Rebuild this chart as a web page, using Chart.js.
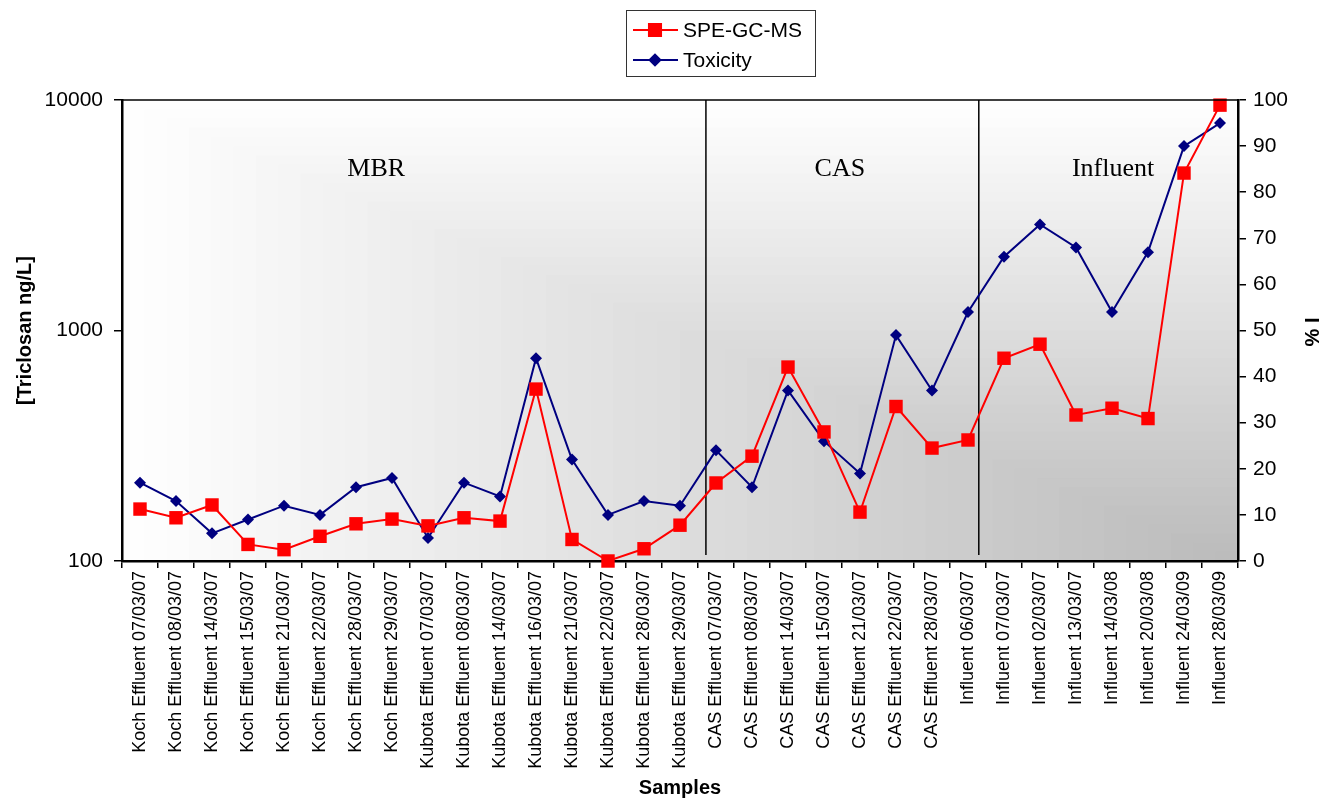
<!DOCTYPE html>
<html>
<head>
<meta charset="utf-8">
<title>Triclosan</title>
<script src="https://cdn.jsdelivr.net/npm/chart.js@4.4.1/dist/chart.umd.min.js"></script>
<style>
    html, body { margin: 0; padding: 0; background: #fff; }
    #wrap { width: 1333px; height: 800px; }
</style>
</head>
<body>
<div id="wrap"><canvas id="triclosanChart"></canvas></div>
<script>
const samples = [
    'Koch Effluent 07/03/07', 'Koch Effluent 08/03/07', 'Koch Effluent 14/03/07', 'Koch Effluent 15/03/07',
    'Koch Effluent 21/03/07', 'Koch Effluent 22/03/07', 'Koch Effluent 28/03/07', 'Koch Effluent 29/03/07',
    'Kubota Effluent 07/03/07', 'Kubota Effluent 08/03/07', 'Kubota Effluent 14/03/07', 'Kubota Effluent 16/03/07',
    'Kubota Effluent 21/03/07', 'Kubota Effluent 22/03/07', 'Kubota Effluent 28/03/07', 'Kubota Effluent 29/03/07',
    'CAS Effluent 07/03/07', 'CAS Effluent 08/03/07', 'CAS Effluent 14/03/07', 'CAS Effluent 15/03/07',
    'CAS Effluent 21/03/07', 'CAS Effluent 22/03/07', 'CAS Effluent 28/03/07', 'Influent 06/03/07',
    'Influent 07/03/07', 'Influent 02/03/07', 'Influent 13/03/07', 'Influent 14/03/08',
    'Influent 20/03/08', 'Influent 24/03/09', 'Influent 28/03/09'
];
// ng/L, left log axis
const speGcMs = [168, 154, 175, 118, 112, 128, 145, 152, 142, 154, 149, 557, 124, 100, 113, 143,
                 218, 285, 694, 363, 163, 468, 309, 335, 758, 872, 430, 460, 415, 4820, 9500];
// % inhibition, right axis
const toxicity = [17, 13, 6, 9, 12, 10, 16, 18, 5, 17, 14, 44, 22, 10, 13, 12,
                  24, 16, 37, 26, 19, 49, 37, 54, 66, 73, 68, 54, 67, 90, 95];
const logTicks = [100, 1000, 10000];
const groupNames = ['MBR', 'CAS', 'Influent'];
const groupLabelAt = [6.56, 19.44, 27.03];  // in category units
const groupBreaks = [15.72, 23.3];

const plotDecor = {
    id: 'plotDecor',
    beforeDraw(chart) {
        // corner gradient: white top-left to grey bottom-right
        const {ctx, chartArea: a} = chart;
        const w = a.right - a.left, h = a.bottom - a.top;
        const steps = 50;
        ctx.save();
        for (let i = 0; i < steps; i++) {
            const c = i / steps;
            const g = Math.round(255 - 68 * (i + 0.5) / steps);
            ctx.fillStyle = 'rgb(' + g + ',' + g + ',' + g + ')';
            ctx.fillRect(a.left + c * w, a.top + c * h, w * (1 - c) + 1, h * (1 - c) + 1);
        }
        ctx.restore();
    },
    beforeDatasetsDraw(chart) {
        const {ctx, chartArea: a, scales} = chart;
        ctx.save();
        ctx.strokeStyle = '#000';
        ctx.lineWidth = 1.5;
        groupBreaks.forEach(b => {
            const x = scales.x.getPixelForValue(b);
            ctx.beginPath();
            ctx.moveTo(x, a.top);
            ctx.lineTo(x, a.bottom - 6);
            ctx.stroke();
        });
        ctx.fillStyle = '#000';
        ctx.font = '26px "Liberation Serif", "Times New Roman", serif';
        ctx.textAlign = 'center';
        ctx.textBaseline = 'middle';
        const y = scales.yRight.getPixelForValue(85);
        groupNames.forEach((n, i) => {
            ctx.fillText(n, scales.x.getPixelForValue(groupLabelAt[i]), y);
        });
        ctx.restore();
    },
    afterDraw(chart) {
        const {ctx, chartArea: a} = chart;
        ctx.save();
        // top border
        ctx.strokeStyle = '#000';
        ctx.lineWidth = 1.5;
        ctx.beginPath();
        ctx.moveTo(a.left, a.top);
        ctx.lineTo(a.right, a.top);
        ctx.stroke();

        // right axis title, reading bottom to top
        ctx.translate(1313, 332);
        ctx.rotate(-Math.PI / 2);
        ctx.font = 'bold 20px "Liberation Sans", Arial, sans-serif';
        ctx.fillStyle = '#000';
        ctx.textAlign = 'center';
        ctx.textBaseline = 'middle';
        ctx.fillText('% I', 0, 0);
        ctx.restore();

        // legend box
        ctx.save();
        ctx.fillStyle = '#fff';
        ctx.fillRect(626, 10, 189, 66);
        ctx.strokeStyle = '#333';
        ctx.lineWidth = 1;
        ctx.strokeRect(626.5, 10.5, 189, 66);
        ctx.font = '21px "Liberation Sans", Arial, sans-serif';
        ctx.textBaseline = 'middle';
        chart.data.datasets.forEach((ds, i) => {
            const y = 30 + i * 30;
            ctx.strokeStyle = ds.borderColor;
            ctx.lineWidth = 2;
            ctx.beginPath();
            ctx.moveTo(633, y);
            ctx.lineTo(678, y);
            ctx.stroke();
            ctx.fillStyle = ds.pointBackgroundColor;
            ctx.strokeStyle = ds.pointBorderColor;
            Chart.helpers.drawPoint(ctx, {
                pointStyle: ds.pointStyle, rotation: 0,
                radius: ds.pointRadius * 0.9, borderWidth: 1
            }, 655, y);
            ctx.fillStyle = '#000';
            ctx.fillText(ds.label, 683, y + 1);
        });
        ctx.restore();
    }
};

const tickFont = {family: '"Liberation Sans", Arial, sans-serif', size: 21};
const titleFont = {family: '"Liberation Sans", Arial, sans-serif', size: 20, weight: 'bold'};

new Chart(document.getElementById('triclosanChart'), {
    type: 'line',
    data: {
        labels: samples,
        datasets: [
            {
                label: 'SPE-GC-MS',
                data: speGcMs,
                yAxisID: 'y',
                borderColor: '#ff0000',
                borderWidth: 2,
                pointStyle: 'rect',
                pointRadius: 9.5,
                pointBackgroundColor: '#ff0000',
                pointBorderColor: '#ff0000',
                pointBorderWidth: 0,
                clip: false,
                tension: 0
            },
            {
                label: 'Toxicity',
                data: toxicity,
                yAxisID: 'yRight',
                borderColor: '#000080',
                borderWidth: 2,
                pointStyle: 'rectRot',
                pointRadius: 6,
                pointBackgroundColor: '#000080',
                pointBorderColor: '#000080',
                pointBorderWidth: 0,
                clip: false,
                tension: 0
            }
        ]
    },
    options: {
        responsive: true,
        maintainAspectRatio: false,
        animation: false,
        layout: {padding: {top: 100, left: 0, right: 0, bottom: 0}},
        plugins: {
            legend: {display: false},
            tooltip: {enabled: false}
        },
        scales: {
            x: {
                type: 'category',
                offset: true,
                grid: {display: true, drawOnChartArea: false, offset: true, color: '#000', tickLength: 7, lineWidth: 1.5},
                border: {display: true, color: '#000', width: 2.5},
                ticks: {
                    color: '#000', font: {family: tickFont.family, size: 18},
                    minRotation: 90, maxRotation: 90, autoSkip: false, padding: 3
                },
                title: {display: true, text: 'Samples', color: '#000', font: titleFont, padding: {top: 0, bottom: 0}},
                afterFit(s) { s.height = 239; }
            },
            y: {
                type: 'logarithmic',
                position: 'left',
                min: 100,
                max: 10000,
                afterBuildTicks(s) { s.ticks = logTicks.map(v => ({value: v})); },
                grid: {display: true, drawOnChartArea: false, color: '#000', tickLength: 8, lineWidth: 1.5},
                border: {display: true, color: '#000', width: 2.5},
                ticks: {color: '#000', font: tickFont, padding: 11, callback: v => String(v)},
                title: {display: true, text: '[Triclosan ng/L]', color: '#000', font: titleFont, padding: {top: 13, bottom: 0}},
                afterFit(s) { s.width = 122; }
            },
            yRight: {
                type: 'linear',
                position: 'right',
                min: 0,
                max: 100,
                grid: {display: true, drawOnChartArea: false, color: '#000', tickLength: 8, lineWidth: 1.5},
                border: {display: true, color: '#000', width: 2.5},
                ticks: {color: '#000', font: tickFont, stepSize: 10, padding: 7},
                afterFit(s) { s.width = 95; }
            }
        }
    },
    plugins: [plotDecor]
});
</script>
</body>
</html>
